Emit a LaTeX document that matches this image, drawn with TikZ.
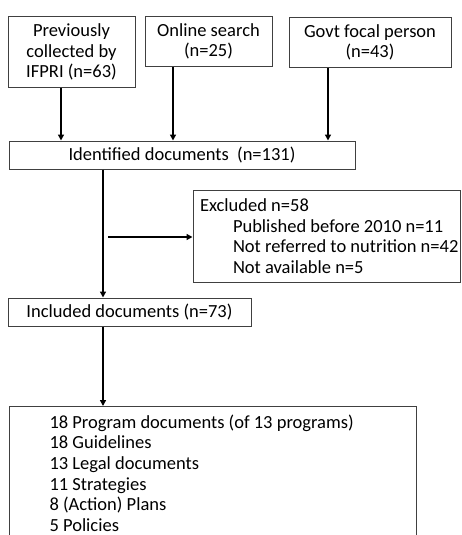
\documentclass[tikz,border=0pt]{standalone}
\usepackage{fontspec}
\setmainfont{Carlito}
\usetikzlibrary{arrows.meta}
\newcommand\fixsp{\spaceskip=0.226em\relax\xspaceskip=0.226em\relax}
\begin{document}
\begin{tikzpicture}[x=1pt,y=-1pt,
  box/.style={draw=black!75, line width=1pt, inner sep=0pt, font=\fontsize{18.5}{20.7}\selectfont},
  arr/.style={line width=1.4pt, -{Triangle[length=6pt,width=6pt]}}]
\useasboundingbox (0,0) rectangle (461,535);
\node[box, minimum width=127, minimum height=70, align=center] (b1) at (71.5,52) {\fixsp Previously\\collected by\\IFPRI (n=63)};
\node[box, minimum width=127, minimum height=50, align=center] (b2) at (208.5,41.5) {\fixsp Online search\\(n=25)};
\node[box, minimum width=162, minimum height=50, align=center] (b3) at (370,42.5) {\fixsp Govt focal person\\(n=43)};
\node[box, minimum width=346, minimum height=28] (idn) at (182,155) {Identified documents\ \ (n=131)};
\node[box, minimum width=267, minimum height=92, text width=267, align=left] (ex) at (326.5,236)
  {\fixsp\hspace*{7pt}\mbox{Excluded n=58}\\\hspace*{40pt}\mbox{Published before 2010 n=11}\\\hspace*{40pt}\mbox{Not referred to nutrition n=42}\\\hspace*{40pt}\mbox{Not available n=5}};
\node[box, minimum width=243, minimum height=28] (inc) at (129.5,312) {Included documents (n=73)};
\node[box, anchor=north west, minimum width=407, text width=407, inner xsep=0pt, inner ysep=8pt, align=left] (res) at (9,406)
  {\fixsp\hspace*{40pt}18 Program documents (of 13 programs)\\\hspace*{40pt}18 Guidelines\\\hspace*{40pt}13 Legal documents\\\hspace*{40pt}11 Strategies\\\hspace*{40pt}8 (Action) Plans\\\hspace*{40pt}5 Policies\\\hspace*{40pt}\strut};
\coordinate (c1) at (61,0);
\coordinate (c2) at (173,0);
\coordinate (c3) at (328,0);
\coordinate (cm) at (103,0);
\coordinate (hs) at (108,237);
\draw[arr] (b1.south -| c1) -- (idn.north -| c1);
\draw[arr] (b2.south -| c2) -- (idn.north -| c2);
\draw[arr] (b3.south -| c3) -- (idn.north -| c3);
\draw[arr] (idn.south -| cm) -- (inc.north -| cm);
\draw[arr] (hs) -- (hs -| ex.west);
\draw[arr] (inc.south -| cm) -- (res.north -| cm);
\end{tikzpicture}
\end{document}
